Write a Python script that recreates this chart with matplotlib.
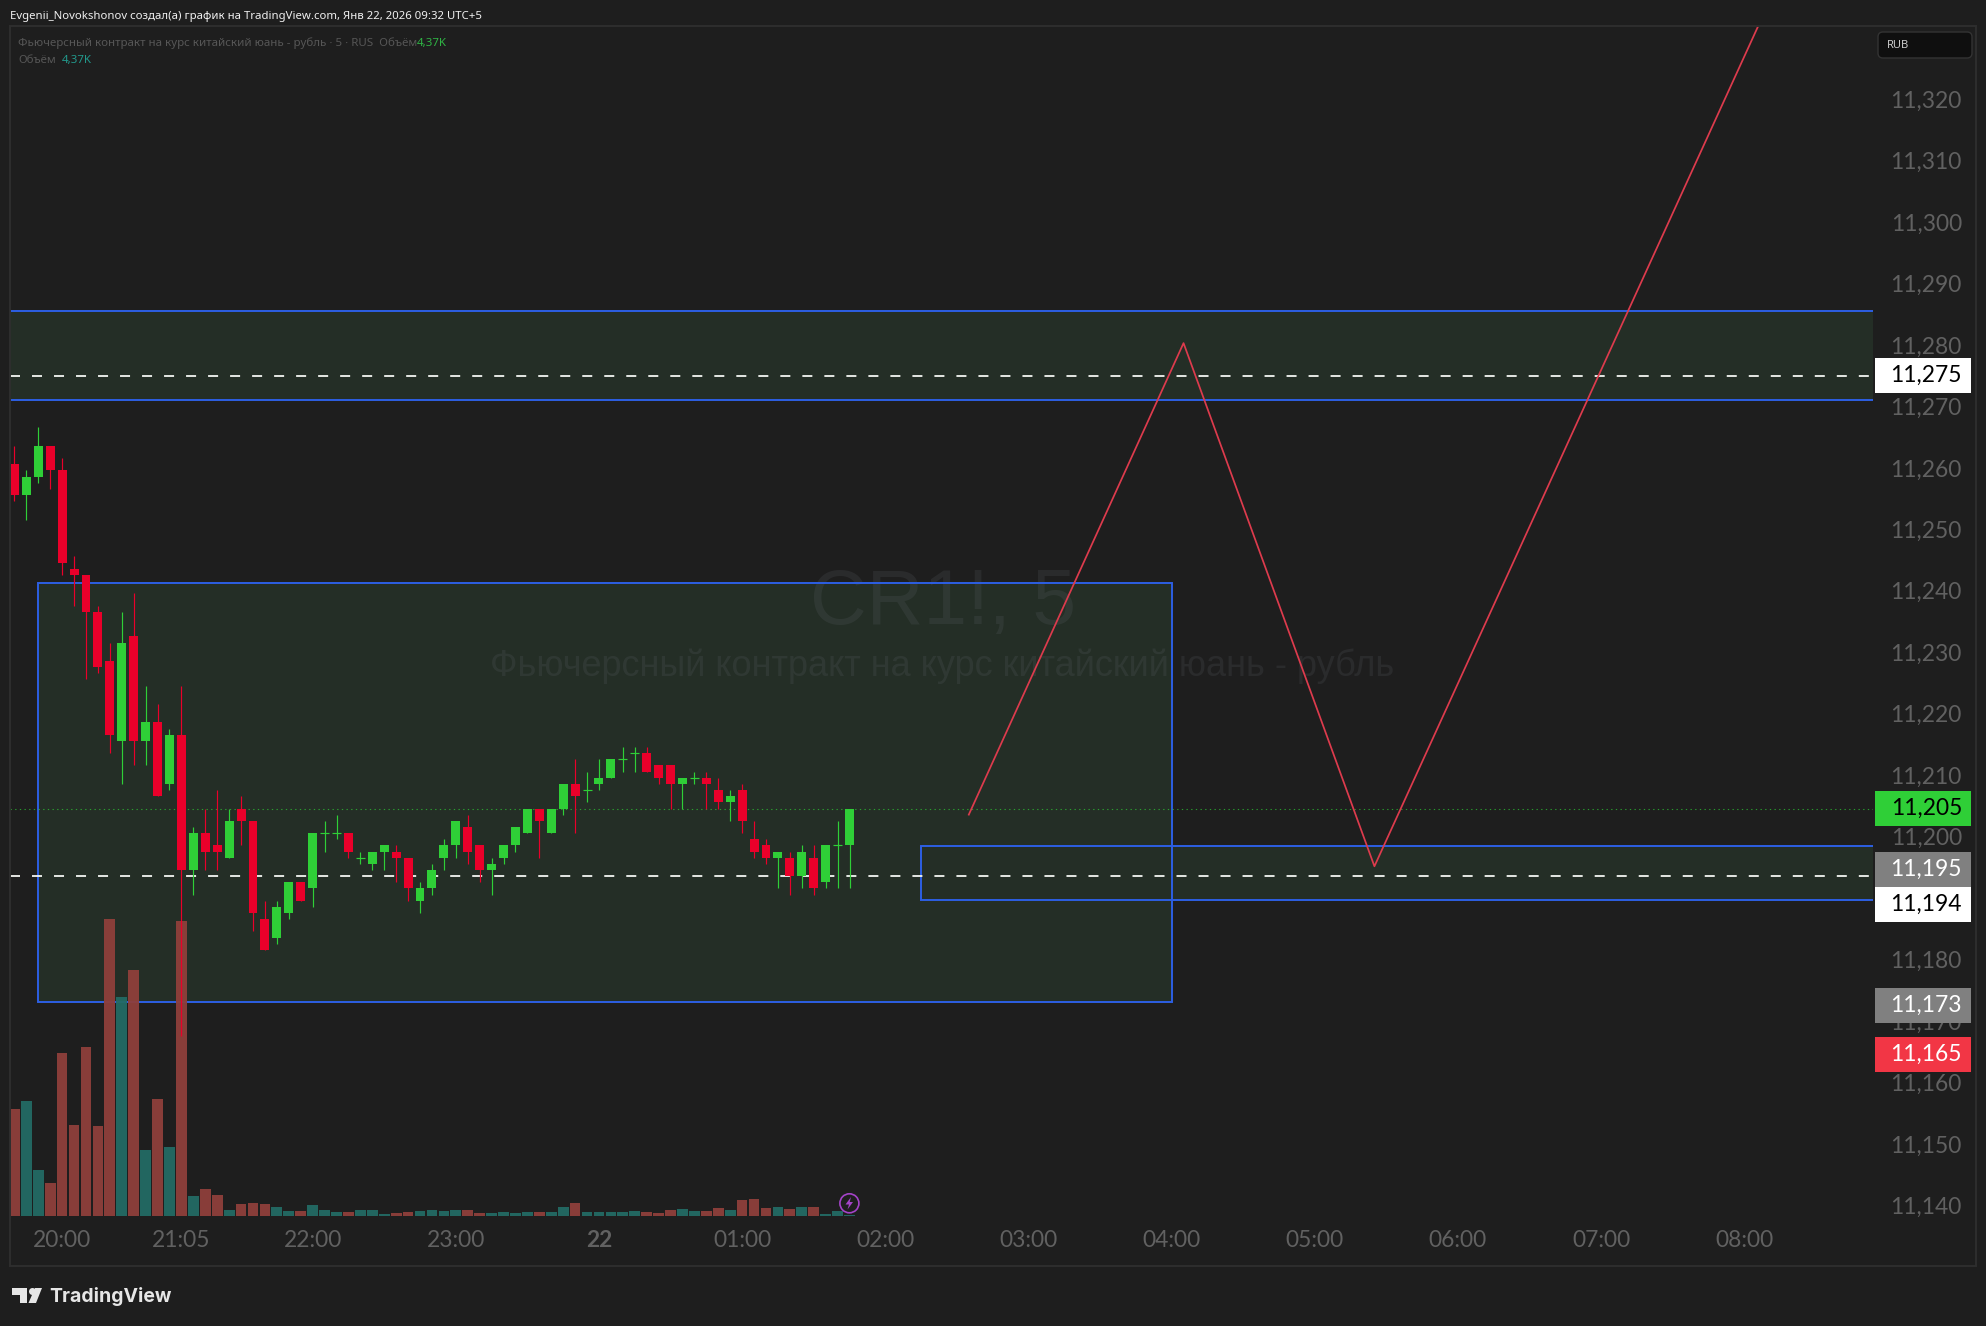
import matplotlib
matplotlib.use("Agg")
import matplotlib.pyplot as plt
import numpy as np
from matplotlib.patches import Rectangle, Polygon, Circle, FancyBboxPatch
from matplotlib.transforms import ScaledTranslation

W, H = 1986, 1326
BG = "#1e1e1e"

opens = [11261,11256,11259,11264,11260,11244,11243,11237,11229,11216,11233,11216,11219,11209,11217,
         11195,11201,11199,11197,11205,11203,11187,11184,11188,11193,11192,11201,11201,11201,11197,
         11196,11198,11198,11197,11190,11192,11197,11199,11202,11199,11195,11197,11199,11201,11205,
         11201,11205,11209,11208,11209,11210,11213,11214,11214,11212,11212,11209,11210,11210,11208,
         11206,11208,11200,11199,11197,11197,11194,11197,11193,11199,11199]
closes = [11256,11259,11264,11260,11245,11243,11237,11228,11217,11232,11216,11219,11207,11217,11195,
          11201,11198,11198,11203,11203,11188,11182,11189,11193,11190,11201,11201,11201,11198,11197,
          11198,11199,11197,11192,11192,11195,11199,11203,11198,11195,11196,11199,11202,11205,11203,
          11205,11209,11207,11208,11210,11213,11213,11214,11211,11210,11209,11210,11210,11209,11206,
          11207,11203,11198,11197,11198,11194,11198,11192,11199,11199,11205]
highs = [11264,11260,11267,11264,11262,11246,11243,11238,11232,11237,11240,11225,11222,11218,11225,
         11202,11205,11208,11205,11207,11203,11190,11190,11193,11193,11201,11203,11204,11201,11198,
         11198,11199,11199,11197,11193,11196,11200,11203,11204,11199,11197,11199,11202,11205,11205,
         11205,11209,11213,11211,11213,11213,11215,11215,11215,11212,11212,11210,11211,11211,11210,
         11208,11209,11203,11200,11198,11198,11199,11199,11199,11203,11205]
lows = [11255,11252,11258,11257,11243,11238,11226,11227,11214,11209,11212,11212,11207,11208,11168,
        11191,11195,11195,11197,11199,11185,11182,11183,11187,11190,11189,11198,11200,11197,11196,
        11195,11195,11193,11190,11188,11191,11195,11197,11196,11193,11191,11196,11198,11201,11197,
        11201,11204,11201,11206,11208,11210,11211,11211,11211,11209,11205,11205,11209,11205,11205,
        11203,11201,11197,11196,11192,11191,11192,11191,11192,11192,11192]
volumes = [320,344,137,98,488,272,506,269,891,656,737,197,350,206,884,59,80,62,17,35,38,35,26,14,14,
           33,18,12,12,18,18,6,9,12,15,18,15,18,18,9,9,12,9,12,12,12,27,39,12,12,12,12,15,12,9,18,21,
           15,15,24,18,48,51,24,27,21,27,27,6,15,4.37]

price_ticks = list(range(11140, 11330, 10))
time_pos = [4,14,25,37,49,61,73,85,97,109,121,133,145]
time_lbl = ["20:00","21:05","22:00","23:00","22","01:00","02:00","03:00","04:00","05:00","06:00","07:00","08:00"]

zones = [(-1, 157, 11271.4, 11286.0), (76, 157, 11190.1, 11198.9), (2, 97, 11173.6, 11241.7)]
dashed_levels = [11275.3, 11194]
last_price = 11205
path_x = [80, 98, 114, 146.2]
path_y = [11204, 11280.7, 11195.6, 11332.4]

# pane geometry
L, R, T, B = 10, 1873, 26, 1216
PX_PER_UNIT = 6.148
PX_PER_BAR = 11.93
X0 = 14.4
Y5 = 808.5

fig = plt.figure(figsize=(W/100, H/100), dpi=100, facecolor=BG)
ax = fig.add_axes([L/W, 1-B/H, (R-L)/W, (B-T)/H], facecolor=BG)
xmin, xmax = (L-X0)/PX_PER_BAR, (R-X0)/PX_PER_BAR
ymin = last_price-(B-Y5)/PX_PER_UNIT
ymax = last_price+(Y5-T)/PX_PER_UNIT
ax.set_xlim(xmin, xmax)
ax.set_ylim(ymin, ymax)
for s in ax.spines.values():
    s.set_visible(False)

BLUE = "#2d5fe4"
for x0, x1, y0, y1 in zones:
    ax.add_patch(Rectangle((x0, y0), x1-x0, y1-y0, fc="#242e26", ec="none", zorder=1))
    ax.add_patch(Rectangle((x0, y0), x1-x0, y1-y0, fc="none", ec=BLUE, lw=1.4, zorder=2.5))

WM, WMA = "#787b86", 0.14
ax.text(77.8, 11238.3, "CR1!, 5", fontsize=56.5, color=WM, alpha=WMA, family="Liberation Sans",
        ha="center", va="center", zorder=1.5)
ax.text(77.8, 11228.1, "Фьючерсный контракт на курс китайский юань - рубль", fontsize=26, color=WM, alpha=WMA,
        family="Liberation Sans", ha="center", va="center", zorder=1.5)

idx = np.arange(len(opens))
o, c, hi, lo, v = map(np.array, (opens, closes, highs, lows, volumes))
up = c >= o
GREEN, RED = "#2fcf37", "#ea002a"
VGREEN, VRED = "#236b64", "#8f3f3b"
k = (1/3)/PX_PER_UNIT
ax.bar(idx, v*k, width=0.9, bottom=ymin, color=[VGREEN if u else VRED for u in up], alpha=0.95, zorder=3)

ax.plot([xmin, xmax], [last_price]*2, color="#2fcf37", alpha=0.7, lw=0.8, ls=(0, (1.2, 3)), zorder=3.2)
for lev in dashed_levels:
    ax.plot([xmin, xmax], [lev]*2, color="#f4f6f2", lw=1.3, ls=(0, (5.54, 6.65)), zorder=3.5, dash_capstyle="butt")

colors = [GREEN if u else RED for u in up]
ax.vlines(idx, lo, hi, colors=colors, lw=0.85, zorder=4)
bh = np.abs(c-o)
bm = bh > 0
ax.bar(idx[bm], bh[bm], width=0.75, bottom=np.minimum(o, c)[bm], color=[colors[i] for i in idx[bm]], zorder=4.2)
ax.hlines(o[~bm], idx[~bm]-0.375, idx[~bm]+0.375, colors=GREEN, lw=0.85, zorder=4.2)

ax.plot(path_x, path_y, color="#dd3b4d", lw=1.25, zorder=5)

TICKC = "#616161"
TFONT = ["Lato", "DejaVu Sans"]
TS = 16.4
ax.yaxis.tick_right()
ax.set_yticks(price_ticks)
ax.set_yticklabels([f"{p:,}" for p in price_ticks], fontsize=TS, color=TICKC, family=TFONT)
ax.tick_params(axis="y", length=0, pad=64)
ax.set_xticks(time_pos)
ax.set_xticklabels(time_lbl, fontsize=TS, color=TICKC, family=TFONT)
ax.tick_params(axis="x", length=0, pad=10)
ax.get_xticklabels()[4].set_fontweight("bold")
for t in ax.get_yticklabels():
    t.set_ha("right")
    t.set_transform(t.get_transform() + ScaledTranslation(0, 2.5/100, fig.dpi_scale_trans))

# overlay in pixel units
ov = fig.add_axes([0, 0, 1, 1], zorder=10, facecolor="none")
ov.set_xlim(0, W)
ov.set_ylim(H, 0)
ov.axis("off")

BORDER = "#2e2e2e"
ov.add_patch(Rectangle((10, 26), 1966, 1239.5, fc="none", ec=BORDER, lw=1.4))

labels = [("11,275", 375.5, "#ffffff", "#000000"), ("11,205", 808.5, "#2fcf37", "#000000"),
          ("11,195", 869.5, "#808080", "#ffffff"), ("11,194", 904, "#ffffff", "#000000"),
          ("11,173", 1005.5, "#808080", "#ffffff"), ("11,165", 1054.5, "#f23645", "#ffffff")]
for txt, yc, fc, tc in labels:
    ov.add_patch(Rectangle((1875, yc-17.5), 96, 35, fc=fc, ec="none"))
    ov.text(1962, yc, txt, ha="right", va="center", fontsize=TS, color=tc, family=TFONT)

ov.add_patch(FancyBboxPatch((1880, 34), 90, 22, boxstyle="round,pad=2,rounding_size=5", fc="#0f0f0f", ec="#333333", lw=1))
ov.text(1887, 45.5, "RUB", fontsize=8, color="#d8d8d8", family=["Open Sans"], ha="left", va="center")

UI = ["Noto Sans", "DejaVu Sans"]
ov.text(10, 16.2, "Evgenii_Novokshonov создал(а) график на TradingView.com, Янв 22, 2026 09:32 UTC+5",
        fontsize=8.2, color="#f0f0f0", family=UI, ha="left", va="center", fontweight="medium")
ov.text(18, 43.2, "Фьючерсный контракт на курс китайский юань - рубль · 5 · RUS  Объём", fontsize=8.3,
        color="#565656", family=UI, ha="left", va="center")
ov.text(417, 43.2, "4,37K", fontsize=8.25, color="#2fb344", family=UI, ha="left", va="center", fontweight="bold")
ov.text(18, 60.2, "Объём", fontsize=8.25, color="#565656", family=UI, ha="left", va="center")
ov.text(62, 60.2, "4,37K", fontsize=8.25, color="#22998c", family=UI, ha="left", va="center", fontweight="bold")

# TradingView logo
LOGO = "#e6e6e6"
ov.add_patch(Polygon([(12,1288),(27,1288),(27,1303),(20,1303),(20,1295),(12,1295)], fc=LOGO, ec="none"))
ov.add_patch(Circle((32.5,1291.5), 3.5, fc=LOGO, ec="none"))
ov.add_patch(Polygon([(35,1288),(42,1288),(36,1303),(28.5,1303)], fc=LOGO, ec="none"))
ov.text(49, 1297, "TradingView", fontsize=14, color=LOGO, family="Inter", fontweight="bold", ha="left", va="center")

# event marker
PURP = "#a443c8"
ov.add_patch(Circle((849.4, 1203.3), 9.5, fc=BG, ec=PURP, lw=1.2))
ov.add_patch(Polygon([(851,1197),(845.5,1204.5),(849,1204.5),(847.5,1209.5),(853,1202),(849.7,1202)], fc=PURP, ec="none"))

fig.savefig("out.png", dpi=100, facecolor=BG)
